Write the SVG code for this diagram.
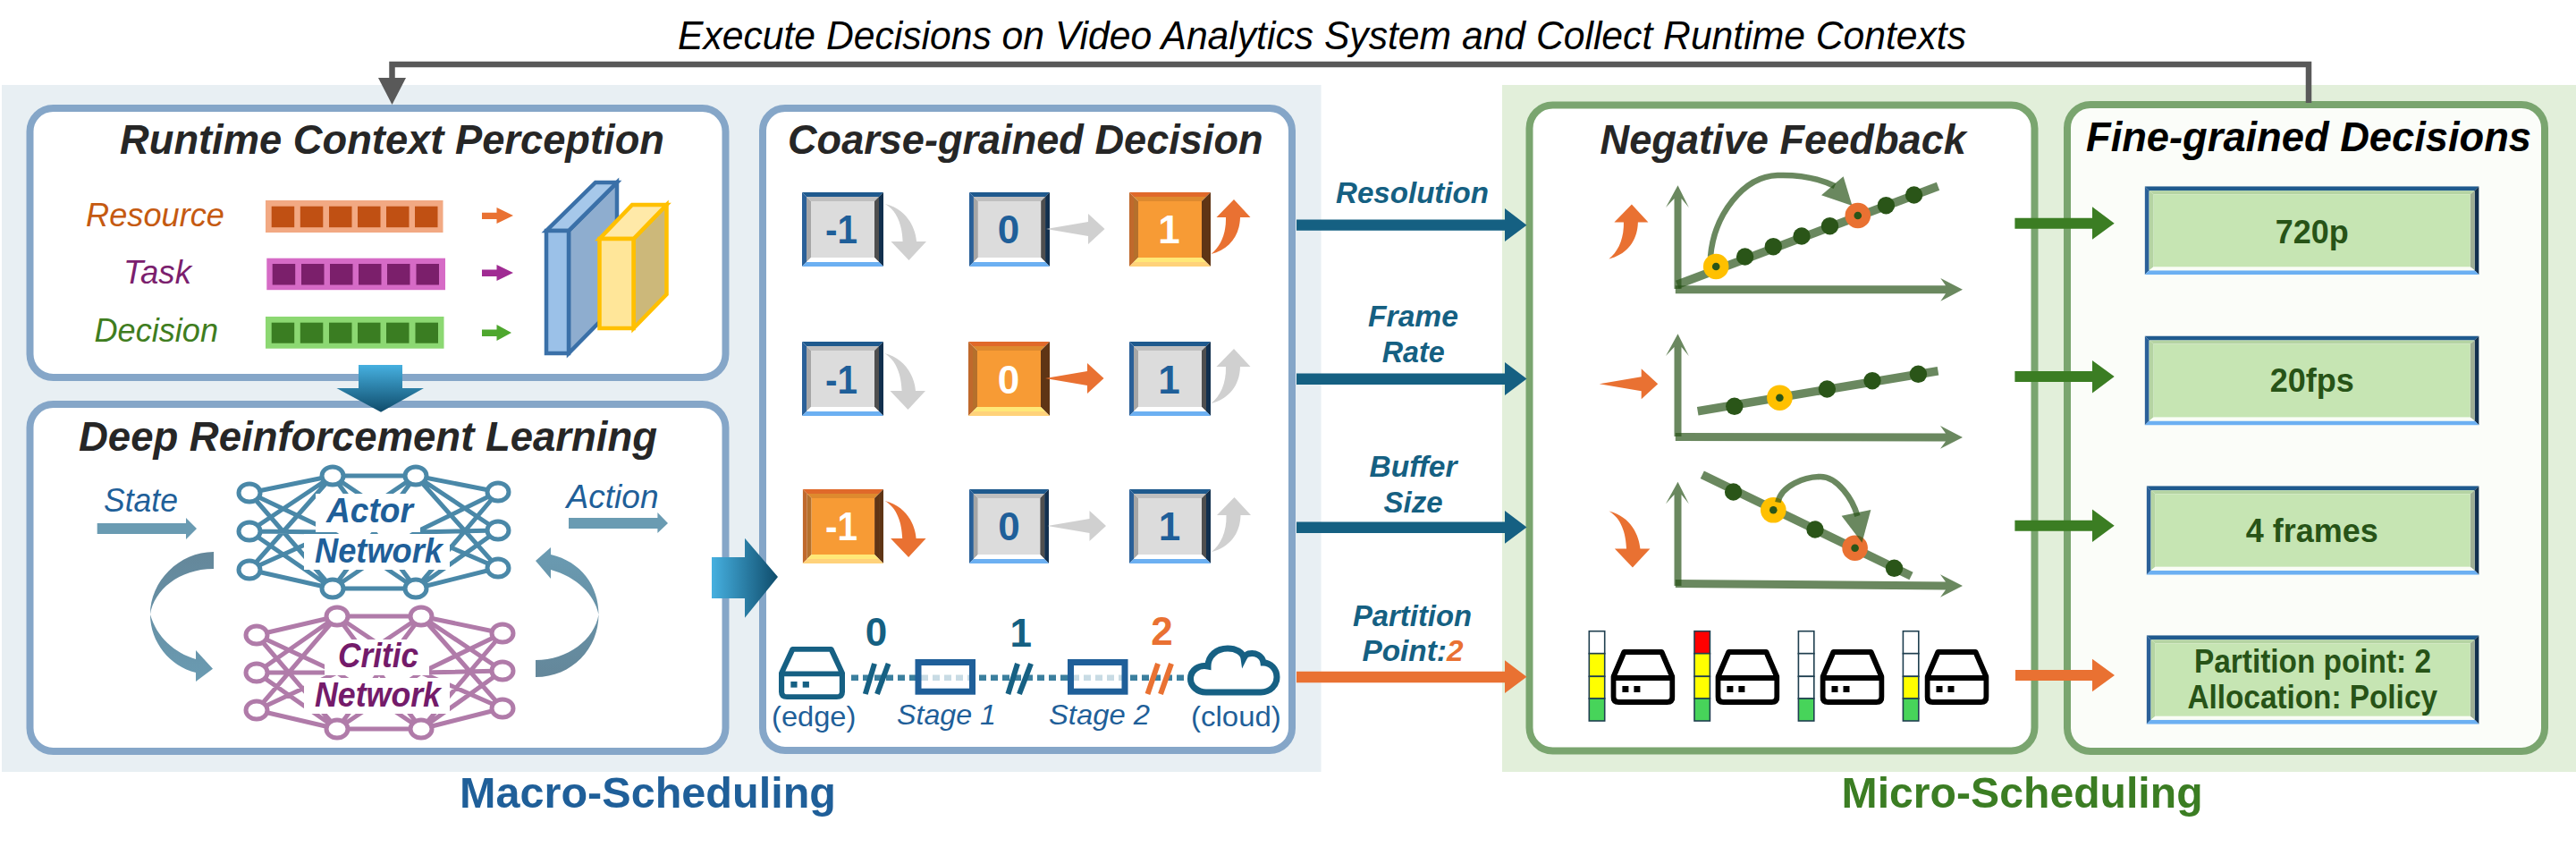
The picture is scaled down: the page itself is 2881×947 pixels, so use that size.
<svg xmlns="http://www.w3.org/2000/svg" xmlns:xlink="http://www.w3.org/1999/xlink" width="2881" height="947" viewBox="0 0 2881 947">
<style>
text{font-family:"Liberation Sans",Arial,sans-serif}
.panel{fill:#fff;stroke:#85A6C8;stroke-width:8}
.gpanel{fill:#fff;stroke:#7AA56F;stroke-width:8}
.title{font-size:46.5px;font-weight:bold;font-style:italic;fill:#262626}
.lab{font-size:36.5px;font-style:italic}
.net{font-size:38px;font-weight:bold;font-style:italic}
.num{font-size:44px;font-weight:bold;text-anchor:middle}
.blue{fill:#1F5F99}
.teal{fill:#156082}
.white{fill:#fff}
.orange{fill:#E97132}
.gray{fill:#D0D0D0}
.flow{font-size:33px;font-weight:bold;font-style:italic;fill:#156082}
.stage{font-size:32px;fill:#1F5F99}
.val{font-size:37.5px;font-weight:bold;fill:#275317;text-anchor:middle}
.big{font-size:48px;font-weight:bold}
.axis{fill:#275317;fill-opacity:.69}
.gl{stroke:#275317;stroke-opacity:.69;fill:none}
.dot{fill:#2A5518}
.seg{stroke:#1F3F4F;stroke-width:1.6}
</style>
<defs>
<linearGradient id="gv" x1="0" y1="0" x2="0" y2="1"><stop offset="0" stop-color="#46B0E0"/><stop offset="1" stop-color="#0F4C6B"/></linearGradient>
<linearGradient id="gh" x1="0" y1="0" x2="1" y2="0"><stop offset="0" stop-color="#46B0E0"/><stop offset="1" stop-color="#0F4C6B"/></linearGradient>
<linearGradient id="gc" x1="0" y1="0" x2="0" y2="1"><stop offset="0" stop-color="#64879A"/><stop offset="1" stop-color="#6A9BB2"/></linearGradient>
<linearGradient id="gc2" x1="0" y1="1" x2="0" y2="0"><stop offset="0" stop-color="#64879A"/><stop offset="1" stop-color="#6A9BB2"/></linearGradient>
<symbol id="sqB" viewBox="0 0 91 83" preserveAspectRatio="none">
<polygon points="0,0 91,0 86,5 5,5" fill="#1F5A8E"/><polygon points="0,0 5,5 5,78 0,83" fill="#2A6098"/><polygon points="91,0 86,5 86,78 91,83" fill="#12304E"/><polygon points="0,83 5,78 86,78 91,83" fill="#6CB0F2"/>
<polygon points="5,5 86,5 81,10 10,10" fill="#BFBFBF"/><polygon points="5,5 10,10 10,73 5,78" fill="#A6A6A6"/><polygon points="86,5 81,10 81,73 86,78" fill="#4F4F4F"/><polygon points="5,78 10,73 81,73 86,78" fill="#fff"/>
<rect x="10" y="10" width="71" height="63" fill="#DCDCDC"/></symbol>
<symbol id="sqO" viewBox="0 0 91 83" preserveAspectRatio="none">
<polygon points="0,0 91,0 86,5 5,5" fill="#E0692A"/><polygon points="0,0 5,5 5,78 0,83" fill="#C0692C"/><polygon points="91,0 86,5 86,78 91,83" fill="#5F3515"/><polygon points="0,83 5,78 86,78 91,83" fill="#FFD27A"/>
<polygon points="5,5 86,5 81,10 10,10" fill="#DE8A2E"/><polygon points="5,5 10,10 10,73 5,78" fill="#B5702C"/><polygon points="86,5 81,10 81,73 86,78" fill="#5F3515"/><polygon points="5,78 10,73 81,73 86,78" fill="#FFE878"/>
<rect x="10" y="10" width="71" height="63" fill="#F79B35"/></symbol>
<symbol id="wide" viewBox="0 0 374 99" preserveAspectRatio="none">
<polygon points="0,0 374,0 369,5 5,5" fill="#1F5A8E"/><polygon points="0,0 5,5 5,94 0,99" fill="#2A6098"/><polygon points="374,0 369,5 369,94 374,99" fill="#12304E"/><polygon points="0,99 5,94 369,94 374,99" fill="#6CB0F2"/>
<polygon points="5,5 369,5 364,9 10,9" fill="#B5D4A3"/><polygon points="5,5 10,9 10,90 5,94" fill="#B5D4A3"/><polygon points="369,5 364,9 364,90 369,94" fill="#9EAE94"/><polygon points="5,94 10,90 364,90 369,94" fill="#FAFDF6"/>
<rect x="10" y="9" width="354" height="81" fill="#C6E5B3"/></symbol>
<symbol id="server" viewBox="0 0 72 62" preserveAspectRatio="none">
<path d="M15,3H57L69,31V53Q69,59 63,59H9Q3,59 3,53V31ZM3,32H69" fill="#fff" fill-opacity="0" stroke="currentColor" stroke-width="6" stroke-linejoin="round"/>
<rect x="13" y="41" width="7" height="7" fill="currentColor"/><rect x="26" y="41" width="7" height="7" fill="currentColor"/></symbol>
<path id="cDown" d="M0,0C25,6 34,28 35,42H46L26.5,63L6.5,42H19.6C19,25 14,8 0,0Z"/>
<path id="cRight" d="M0,0L47,-8V-17L65.5,0L47,17V8Z"/>
<path id="cUp" d="M0,0C20,-5 32,-20 32.5,-41H44L25.5,-61L6,-41H16.5C17,-22 10,-8 0,0Z"/>
<g id="yr"><circle r="14.3" fill="#FFC000"/><circle r="4.3" fill="#2A5518"/></g>
<g id="or"><circle r="14.3" fill="#E97132"/><circle r="4.3" fill="#2A5518"/></g>
</defs>
<rect width="2881" height="947" fill="#fff"/>
<rect id="macro-bg" x="2" y="95" width="1475.5" height="768" fill="#E8EFF3"/>
<rect id="micro-bg" x="1680" y="95" width="1201" height="768" fill="#E2EFDA"/>
<text id="feedback-label" x="758" y="55" font-size="43.6" font-style="italic" fill="#000" textLength="1441" lengthAdjust="spacingAndGlyphs">Execute Decisions on Video Analytics System and Collect Runtime Contexts</text>

<g id="perception">
<rect class="panel" x="33.5" y="121" width="778" height="301" rx="26"/>
<text class="title" x="134" y="172" textLength="609" lengthAdjust="spacingAndGlyphs">Runtime Context Perception</text>
<text class="lab" x="96" y="253" fill="#C55A11" textLength="155" lengthAdjust="spacingAndGlyphs">Resource</text>
<text class="lab" x="138" y="317" fill="#7B1F6E" textLength="76" lengthAdjust="spacingAndGlyphs">Task</text>
<text class="lab" x="105.5" y="382" fill="#3F7D20" textLength="138.5" lengthAdjust="spacingAndGlyphs">Decision</text>
<g fill="#C05013"><rect x="297" y="224" width="198.5" height="36" fill="#F2A983"/><rect x="303.7" y="230.7" width="25.5" height="23.5"/><rect x="335.8" y="230.7" width="25.5" height="23.5"/><rect x="368" y="230.7" width="25.5" height="23.5"/><rect x="400" y="230.7" width="25.5" height="23.5"/><rect x="432" y="230.7" width="25.5" height="23.5"/><rect x="464" y="230.7" width="25.5" height="23.5"/></g>
<g fill="#7B1F6B"><rect x="298.3" y="288.7" width="199.7" height="35.5" fill="#D66BC6"/><rect x="304.7" y="295" width="25.5" height="23.5"/><rect x="337" y="295" width="25.5" height="23.5"/><rect x="369" y="295" width="25.5" height="23.5"/><rect x="401" y="295" width="25.5" height="23.5"/><rect x="433" y="295" width="25.5" height="23.5"/><rect x="465.5" y="295" width="25.5" height="23.5"/></g>
<g fill="#3A7D22"><rect x="297" y="354" width="199.5" height="35.7" fill="#8CD872"/><rect x="303.7" y="360.7" width="25.5" height="23"/><rect x="335.8" y="360.7" width="25.5" height="23"/><rect x="368" y="360.7" width="25.5" height="23"/><rect x="400" y="360.7" width="25.5" height="23"/><rect x="432" y="360.7" width="25.5" height="23"/><rect x="464.5" y="360.7" width="25.5" height="23"/></g>
<polygon points="539,237.7 555.5,237.7 555.5,232 574,241 555.5,250 555.5,245 539,245" fill="#E97132"/>
<polygon points="539,301.5 555.5,301.5 555.5,296 574,305 555.5,314 555.5,309 539,309" fill="#A02B93"/>
<polygon points="539,368.5 555.5,368.5 555.5,363 572,372 555.5,381 555.5,376 539,376" fill="#4EA72E"/>
<g stroke="#3A70A8" stroke-width="4.5" stroke-linejoin="miter">
<polygon points="636,258 690,204 690,340 636,395" fill="#8EADCF"/>
<polygon points="611,258 666,204 690,204 636,258" fill="#A6C8EA"/>
<rect x="611" y="258" width="25" height="137" fill="#9BC1E8"/>
</g>
<g stroke="#FFC000" stroke-width="4.5">
<polygon points="708.6,267 745.5,229 745.5,329 708.6,367" fill="#CCB87A"/>
<polygon points="670.5,267 707,229 745.5,229 708.6,267" fill="#FFE9A8"/>
<rect x="670.5" y="267" width="38" height="100" fill="#FFE699"/>
</g>
</g>

<g id="rl">
<rect class="panel" x="33.5" y="452" width="778" height="388" rx="26"/>
<text class="title" x="88" y="504" textLength="647" lengthAdjust="spacingAndGlyphs">Deep Reinforcement Learning</text>
<text class="lab blue" x="116" y="571.5" textLength="83" lengthAdjust="spacingAndGlyphs">State</text>
<text class="lab blue" x="633.5" y="567.5" textLength="103" lengthAdjust="spacingAndGlyphs">Action</text>
<polygon points="108.7,585 208,585 208,579 220,591 208,603 208,597 108.7,597" fill="#6A9BB2"/>
<polygon points="636,579 735.4,579 735.4,573 747,585 735.4,596 735.4,591 636,591" fill="#6A9BB2"/>
<path d="M239,617C200,617 168,650 168,687C168,718 190,745 219,752V762L238,747.7L219,727V737C195,730 175,712 168,687C172,660 200,636 239,636Z" fill="url(#gc)"/>
<path d="M599,757C640,757 669.5,725 669.5,687C669.5,655 650,628 616,620V612L599,627L616,647V637C645,645 665,665 669.5,687C665,715 635,738 599,738Z" fill="url(#gc2)"/>
<g id="actor-network">
<path stroke="#4A88A8" stroke-width="5" fill="none" d="M279,551L372,532M279,551L372,595M279,551L372,658M279,594L372,532M279,594L372,595M279,594L372,658M279,637L372,532M279,637L372,595M279,637L372,658M372,532L465,532M372,532L465,595M372,532L465,658M372,595L465,532M372,595L465,658M372,658L465,532M372,658L465,595M372,658L465,658M465,532L557,550M465,532L557,593M465,532L557,635M465,595L557,550M465,595L557,593M465,595L557,635M465,658L557,550M465,658L557,593M465,658L557,635"/>
<g fill="#fff" stroke="#4A88A8" stroke-width="5"><ellipse cx="279" cy="551" rx="12" ry="10"/><ellipse cx="279" cy="594" rx="12" ry="10"/><ellipse cx="279" cy="637" rx="12" ry="10"/><ellipse cx="372" cy="532" rx="12" ry="10"/><ellipse cx="372" cy="658" rx="12" ry="10"/><ellipse cx="465" cy="532" rx="12" ry="10"/><ellipse cx="465" cy="658" rx="12" ry="10"/><ellipse cx="557" cy="550" rx="12" ry="10"/><ellipse cx="557" cy="593" rx="12" ry="10"/><ellipse cx="557" cy="635" rx="12" ry="10"/></g>
<rect x="353" y="552" width="117" height="43" fill="#fff"/><rect x="340" y="597" width="163" height="40" fill="#fff"/>
<text class="net blue" x="365" y="584" textLength="97" lengthAdjust="spacingAndGlyphs">Actor</text>
<text class="net blue" x="352" y="629" textLength="143" lengthAdjust="spacingAndGlyphs">Network</text>
</g>
<g id="critic-network">
<path stroke="#B07BA9" stroke-width="5" fill="none" d="M287,710L377,689M287,710L377,752M287,710L377,815M287,752L377,689M287,752L377,752M287,752L377,815M287,794L377,689M287,794L377,752M287,794L377,815M377,689L471,689M377,689L471,752M377,689L471,815M377,752L471,689M377,752L471,815M377,815L471,689M377,815L471,752M377,815L471,815M471,689L562,708M471,689L562,750M471,689L562,792M471,752L562,708M471,752L562,750M471,752L562,792M471,815L562,708M471,815L562,750M471,815L562,792"/>
<g fill="#fff" stroke="#B07BA9" stroke-width="5"><ellipse cx="287" cy="710" rx="12" ry="10"/><ellipse cx="287" cy="752" rx="12" ry="10"/><ellipse cx="287" cy="794" rx="12" ry="10"/><ellipse cx="377" cy="689" rx="12" ry="10"/><ellipse cx="377" cy="815" rx="12" ry="10"/><ellipse cx="471" cy="689" rx="12" ry="10"/><ellipse cx="471" cy="815" rx="12" ry="10"/><ellipse cx="562" cy="708" rx="12" ry="10"/><ellipse cx="562" cy="750" rx="12" ry="10"/><ellipse cx="562" cy="792" rx="12" ry="10"/></g>
<rect x="363" y="715" width="117" height="40" fill="#fff"/><rect x="340" y="758" width="163" height="40" fill="#fff"/>
<text class="net" fill="#741B6A" x="378" y="746" textLength="90" lengthAdjust="spacingAndGlyphs">Critic</text>
<text class="net" fill="#741B6A" x="352" y="790" textLength="141" lengthAdjust="spacingAndGlyphs">Network</text>
</g>
</g>

<g id="coarse">
<rect class="panel" x="853" y="121" width="592" height="718" rx="25"/>
<text class="title" x="881" y="171.7" textLength="531.5" lengthAdjust="spacingAndGlyphs">Coarse-grained Decision</text>
<use xlink:href="#sqB" href="#sqB" x="897" y="215" width="91" height="83"/><use href="#sqB" x="1084" y="215" width="90" height="83"/><use href="#sqO" x="1263" y="215" width="91" height="83"/>
<use href="#sqB" x="897" y="382" width="91" height="83"/><use href="#sqO" x="1083" y="382" width="91" height="83"/><use href="#sqB" x="1263" y="382" width="91" height="83"/>
<use href="#sqO" x="897.7" y="547" width="90.3" height="83"/><use href="#sqB" x="1084" y="547" width="89" height="83"/><use href="#sqB" x="1263" y="547" width="91" height="83"/>
<text class="num blue" x="941" y="271.7" textLength="36" lengthAdjust="spacingAndGlyphs">-1</text><text class="num blue" x="1128" y="271.7">0</text><text class="num white" x="1307.5" y="271.7">1</text>
<text class="num blue" x="941" y="440" textLength="36" lengthAdjust="spacingAndGlyphs">-1</text><text class="num white" x="1128" y="440">0</text><text class="num blue" x="1307.5" y="440">1</text>
<text class="num white" x="941" y="604" textLength="36" lengthAdjust="spacingAndGlyphs">-1</text><text class="num blue" x="1128.5" y="604">0</text><text class="num blue" x="1308" y="604">1</text>
<use href="#cDown" x="990" y="228" class="gray"/><use href="#cRight" x="1170" y="256" class="gray"/><use href="#cUp" x="1354.5" y="284" class="orange"/>
<use href="#cDown" x="989" y="395" class="gray"/><use href="#cRight" x="1169" y="423" class="orange"/><use href="#cUp" x="1354.5" y="451" class="gray"/>
<use href="#cDown" x="989.6" y="560" class="orange"/><use href="#cRight" x="1171.5" y="588" class="gray"/><use href="#cUp" x="1355" y="617" class="gray"/>
<line x1="952" y1="757.7" x2="1327" y2="757.7" stroke="#3B7F9E" stroke-width="6.5" stroke-dasharray="8 5"/>
<g fill="#fff" fill-opacity=".72" stroke="#1F5F99" stroke-width="7"><rect x="1027" y="740.5" width="60.5" height="32.7"/><rect x="1197.5" y="740.5" width="60.5" height="32.7"/></g>
<use href="#server" x="871" y="723" width="74" height="59" color="#166083"/>
<path d="M1349,774H1410C1421,774 1428,766 1428,757C1428,748 1421,741 1413,741C1412,733 1404,729 1396,731C1393,732 1392,734 1391,736C1390,729 1382,725 1373,725C1361,725 1351,733 1351,745C1341,743 1331.5,749 1331.5,759C1331.5,767 1339,774 1349,774Z" fill="#fff" stroke="#166083" stroke-width="7"/>
<g stroke="#166083" stroke-width="6"><path d="M978,742L967.8,776M993.6,742L981,776M1138,742L1127.4,776M1153,742L1140,776"/></g>
<path d="M1295,742L1283.5,776M1310,742L1298,776" stroke="#E97132" stroke-width="6"/>
<text class="num teal" x="980" y="721.7">0</text><text class="num teal" x="1141.7" y="723">1</text><text class="num orange" x="1299.6" y="720.7">2</text>
<text class="stage" x="863" y="811.7" textLength="94.4" lengthAdjust="spacingAndGlyphs">(edge)</text>
<text class="stage" x="1332" y="811.7" textLength="100.8" lengthAdjust="spacingAndGlyphs">(cloud)</text>
<text class="stage" font-style="italic" x="1003" y="810" textLength="111" lengthAdjust="spacingAndGlyphs">Stage 1</text>
<text class="stage" font-style="italic" x="1173" y="810" textLength="113" lengthAdjust="spacingAndGlyphs">Stage 2</text>
</g>

<g id="slow-arrows">
<polygon points="401,408 450,408 450,434 474,434 426,460.7 376.5,434 401,434" fill="url(#gv)"/>
<polygon points="796,623 833,623 833,601.7 870,645 833,690.7 833,669 796,669" fill="url(#gh)"/>
</g>

<g id="negative-feedback">
<rect class="gpanel" x="1710.5" y="117.5" width="565" height="722" rx="26"/>
<text class="title" x="1789.5" y="171.7" textLength="409.5" lengthAdjust="spacingAndGlyphs">Negative Feedback</text>
<use href="#cUp" x="1799.4" y="289.5" class="orange"/>
<use href="#cRight" x="1788.7" y="429.3" class="orange"/>
<use href="#cDown" x="1799.4" y="571.5" class="orange"/>
<g id="graph-1">
<polygon class="axis" points="1872.5,323 1872.5,222 1863,232 1876.5,207.3 1888.8,232 1880.5,222 1880.5,323"/>
<polygon class="axis" points="1873.8,319.2 2176,319.2 2170.3,311 2195,323.7 2170.3,336.7 2176,328.2 1873.8,328.2"/>
<line class="gl" x1="1875.7" y1="318.3" x2="2167.5" y2="208.3" stroke-width="9.5"/>
<path class="gl" d="M1913,287C1917,240 1950,197 1988,196C2015,195 2035,200 2052,208" stroke-width="6.5"/>
<polygon class="axis" points="2071.5,230 2061.6,197.3 2037,218.3"/>
<g class="dot"><circle cx="1951.6" cy="287" r="9.7"/><circle cx="1983.3" cy="275.7" r="9.7"/><circle cx="2015" cy="264" r="9.7"/><circle cx="2046.5" cy="252.7" r="9.7"/><circle cx="2109.4" cy="229.7" r="9.7"/><circle cx="2140.6" cy="218" r="9.7"/></g>
<use href="#yr" x="1919.2" y="298"/><use href="#or" x="2077.8" y="241"/>
</g>
<g id="graph-2">
<polygon class="axis" points="1872.5,488 1872.5,388 1863,398 1876.5,373.3 1888.8,398 1880.5,388 1880.5,488"/>
<polygon class="axis" points="1873.8,484 2176,484.5 2170,476 2195,489 2170,501.7 2176,493.5 1873.8,493"/>
<line class="gl" x1="1898.7" y1="459.7" x2="2167.5" y2="414.7" stroke-width="9.5"/>
<g class="dot"><circle cx="1939.8" cy="454.3" r="9.7"/><circle cx="2043.4" cy="435" r="9.7"/><circle cx="2094" cy="425.7" r="9.7"/><circle cx="2145.4" cy="418.3" r="9.7"/></g>
<use href="#yr" x="1990.4" y="444.7"/>
</g>
<g id="graph-3">
<polygon class="axis" points="1872.5,655 1872.5,553 1863,563.3 1876.5,538.7 1888.8,563.3 1880.5,553 1880.5,655"/>
<polygon class="axis" points="1873.8,648 2176,650.5 2170,642.3 2195,655 2170,667.7 2176,659.5 1873.8,657"/>
<line class="gl" x1="1903.8" y1="530.7" x2="2137.5" y2="644" stroke-width="9.5"/>
<g class="dot"><circle cx="1938.6" cy="550" r="9.7"/><circle cx="2030" cy="592" r="9.7"/><circle cx="2118.5" cy="635.3" r="9.7"/></g>
<use href="#yr" x="1983.3" y="570.3"/><use href="#or" x="2074.6" y="612.7"/>
<path class="gl" d="M1988.4,561.7C1992,543 2018,533 2036,533C2055,533 2072,558 2077.4,577" stroke-width="6.5"/>
<polygon class="axis" points="2059.6,576.7 2092.4,570 2082.5,606.7"/>
</g>
<g id="load-bars">
<g class="seg"><rect x="1777.3" y="705.7" width="17.4" height="25" fill="#fff"/><rect x="1777.3" y="730.7" width="17.4" height="25.6" fill="#FFFF00"/><rect x="1777.3" y="756.3" width="17.4" height="24.7" fill="#FFFF00"/><rect x="1777.3" y="781" width="17.4" height="25" fill="#47D45A"/></g>
<g class="seg"><rect x="1895" y="705.7" width="17.4" height="25" fill="#FF0000"/><rect x="1895" y="730.7" width="17.4" height="25.6" fill="#FFFF00"/><rect x="1895" y="756.3" width="17.4" height="24.7" fill="#FFFF00"/><rect x="1895" y="781" width="17.4" height="25" fill="#47D45A"/></g>
<g class="seg"><rect x="2011.4" y="705.7" width="17.4" height="25" fill="#fff"/><rect x="2011.4" y="730.7" width="17.4" height="25.6" fill="#fff"/><rect x="2011.4" y="756.3" width="17.4" height="24.7" fill="#fff"/><rect x="2011.4" y="781" width="17.4" height="25" fill="#47D45A"/></g>
<g class="seg"><rect x="2128.4" y="705.7" width="17.4" height="25" fill="#fff"/><rect x="2128.4" y="730.7" width="17.4" height="25.6" fill="#fff"/><rect x="2128.4" y="756.3" width="17.4" height="24.7" fill="#FFFF00"/><rect x="2128.4" y="781" width="17.4" height="25" fill="#47D45A"/></g>
<use href="#server" x="1801.4" y="726" width="72" height="62" color="#000"/><use href="#server" x="1918.4" y="726" width="72" height="62" color="#000"/><use href="#server" x="2035.5" y="726" width="72" height="62" color="#000"/><use href="#server" x="2152.5" y="726" width="72" height="62" color="#000"/>
</g>
</g>

<g id="fine-grained">
<rect class="gpanel" style="fill:#FBFDF9" x="2312" y="117" width="534" height="723" rx="26"/>
<text class="title" style="fill:#000" x="2333" y="169.3" textLength="498" lengthAdjust="spacingAndGlyphs">Fine-grained Decisions</text>
<use href="#wide" x="2398.6" y="208.3" width="374" height="99"/>
<use href="#wide" x="2398.6" y="375.5" width="374" height="100"/>
<use href="#wide" x="2400.6" y="543.3" width="372" height="99.4"/>
<use href="#wide" x="2400.6" y="710.3" width="372" height="99.4"/>
<text class="val" x="2585.7" y="271.7" textLength="82" lengthAdjust="spacingAndGlyphs">720p</text>
<text class="val" x="2585.7" y="438" textLength="94" lengthAdjust="spacingAndGlyphs">20fps</text>
<text class="val" x="2585.7" y="605.7" textLength="148" lengthAdjust="spacingAndGlyphs">4 frames</text>
<text class="val" x="2586.5" y="751.7" textLength="265" lengthAdjust="spacingAndGlyphs">Partition point: 2</text>
<text class="val" x="2586.2" y="791.7" textLength="279.5" lengthAdjust="spacingAndGlyphs">Allocation: Policy</text>
</g>

<g id="connectors">
<path d="M2582,115V72H438.5V90" fill="none" stroke="#595959" stroke-width="6.5"/>
<polygon points="423,87 454,87 438.5,117" fill="#595959"/>
<g fill="#156082">
<polygon points="1450,245.5 1683,245.5 1683,233 1707.5,251.7 1683,270 1683,257.7 1450,257.7"/>
<polygon points="1450,417.5 1683,417.5 1683,405 1707.5,423.5 1683,442 1683,430 1450,430"/>
<polygon points="1450,583.5 1683,583.5 1683,571 1707.5,589.5 1683,607.7 1683,596 1450,596"/>
</g>
<polygon points="1450,750.7 1683,750.7 1683,738.3 1707.5,756.7 1683,775 1683,763.3 1450,763.3" fill="#E97132"/>
<g fill="#3B7D23">
<polygon points="2253.4,243.7 2340,243.7 2340,231.3 2364.7,249.7 2340,267.7 2340,255.7 2253.4,255.7"/>
<polygon points="2253.4,415 2340,415 2340,403 2364.7,421 2340,439.5 2340,427 2253.4,427"/>
<polygon points="2253.4,581.7 2340,581.7 2340,569.5 2364.7,587.7 2340,606 2340,593.7 2253.4,593.7"/>
</g>
<polygon points="2254,749 2340,749 2340,736.7 2365,755 2340,773.3 2340,761 2254,761" fill="#E97132"/>
</g>

<g id="flow-labels">
<text class="flow" x="1494" y="227.3" textLength="171" lengthAdjust="spacingAndGlyphs">Resolution</text>
<text class="flow" x="1530" y="365" textLength="101" lengthAdjust="spacingAndGlyphs">Frame</text>
<text class="flow" x="1545.7" y="405" textLength="70" lengthAdjust="spacingAndGlyphs">Rate</text>
<text class="flow" x="1531.5" y="533" textLength="98" lengthAdjust="spacingAndGlyphs">Buffer</text>
<text class="flow" x="1547.6" y="573" textLength="66" lengthAdjust="spacingAndGlyphs">Size</text>
<text class="flow" x="1513" y="700" textLength="133" lengthAdjust="spacingAndGlyphs">Partition</text>
<text class="flow" x="1523.5" y="739.3" textLength="113" lengthAdjust="spacingAndGlyphs">Point:<tspan fill="#E97132">2</tspan></text>
</g>
<text id="macro-label" class="big blue" x="514" y="903" textLength="421" lengthAdjust="spacingAndGlyphs">Macro-Scheduling</text>
<text id="micro-label" class="big" fill="#3B7D23" x="2059.6" y="903" textLength="404" lengthAdjust="spacingAndGlyphs">Micro-Scheduling</text>
</svg>
